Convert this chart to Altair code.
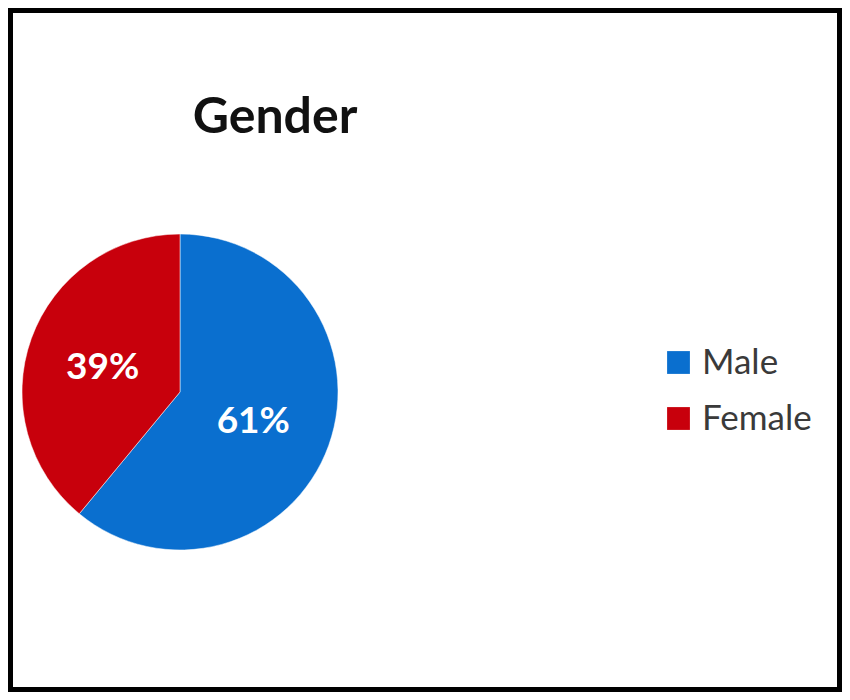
import altair as alt
import pandas as pd

gender = ["Male", "Female"]
share = [61, 39]
labels = ["61%", "39%"]
colors = ["#0a6fcf", "#c8000c"]
title_text = ["Gender"]

df = pd.DataFrame({"gender": gender, "share": share, "label": labels, "idx": list(range(len(gender)))})

CX, CY = 172, 384

base = alt.Chart(df).encode(
    theta=alt.Theta("share:Q", stack=True),
    order=alt.Order("idx:Q"),
)

pie = base.mark_arc(outerRadius=158, stroke="white", strokeWidth=0.5).encode(
    color=alt.Color(
        "gender:N",
        sort=gender,
        scale=alt.Scale(domain=gender, range=colors),
        legend=alt.Legend(
            title=None,
            orient="none",
            legendX=653,
            legendY=337,
            symbolType="square",
            symbolSize=520,
            symbolStrokeWidth=0,
            labelFont="Lato",
            labelFontSize=35,
            labelColor="#3a3a3a",
            labelOffset=6,
            rowPadding=20,
            padding=0,
        ),
    ),
    x=alt.value(CX),
    y=alt.value(CY),
)

pct = base.mark_text(radius=80, font="Lato", fontSize=37, fontWeight="bold").encode(
    text="label:N",
    color=alt.value("white"),
    x=alt.value(CX - 2),
    y=alt.value(CY + 3),
)

title = alt.Chart(pd.DataFrame({"t": title_text})).mark_text(
    font="Lato", fontSize=50, fontWeight="bold", color="#111111", align="center", baseline="alphabetic"
).encode(text="t:N", x=alt.value(267), y=alt.value(125))

chart = alt.layer(pie, pct, title).properties(
    width=834,
    height=684,
    padding=0,
    autosize=alt.AutoSizeParams(type="fit", contains="padding"),
    background="white",
).configure_view(stroke="black", strokeWidth=10)

chart.save("out.html", embed_options={"renderer": "svg", "actions": False})
